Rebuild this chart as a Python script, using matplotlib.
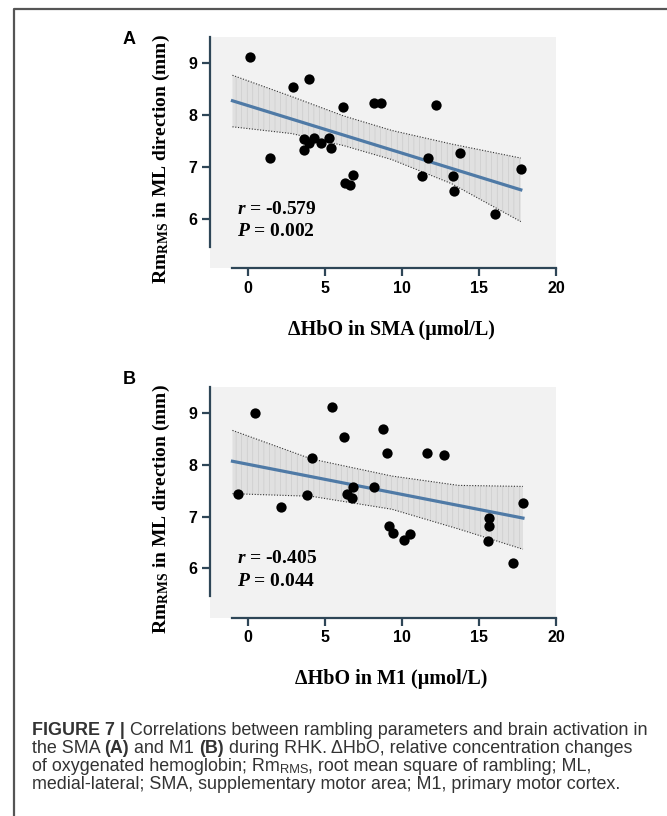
import numpy as np
import matplotlib
matplotlib.use('Agg')
import matplotlib.pyplot as plt
from matplotlib.lines import Line2D

plt.rcParams['mathtext.fontset'] = 'custom'
plt.rcParams['mathtext.rm'] = 'Liberation Serif:bold'
plt.rcParams['mathtext.bf'] = 'Liberation Serif:bold'
plt.rcParams['mathtext.it'] = 'Liberation Serif:italic:bold'
plt.rcParams['hatch.linewidth'] = 0.4

# panel A: dHbO in SMA vs Rm_RMS
sma_x = [0.15, 1.45, 2.9, 3.98, 3.65, 3.65, 3.94, 4.26, 4.76, 5.23, 5.41, 6.16, 6.32,
         6.64, 6.83, 8.19, 8.63, 12.2, 11.7, 11.3, 13.3, 13.34, 13.77, 16.04, 17.7]
sma_y = [9.12, 7.18, 8.53, 8.69, 7.54, 7.33, 7.45, 7.56, 7.45, 7.56, 7.36, 8.15, 6.69,
         6.66, 6.85, 8.23, 8.23, 8.18, 7.18, 6.82, 6.82, 6.54, 7.27, 6.10, 6.96]
sma_fit_x = [-1, 17.7]
sma_fit_y = [8.27, 6.56]
sma_band_x = [-1, 2.85, 6.2, 9.34, 13.2, 17.7]
sma_band_hi = [8.76, 8.35, 7.98, 7.70, 7.44, 7.17]
sma_band_lo = [7.77, 7.64, 7.41, 7.14, 6.68, 5.95]
sma_stats = ['-0.579', '0.002']

# panel B: dHbO in M1 vs Rm_RMS
m1_x = [-0.61, 0.43, 2.14, 3.83, 4.15, 5.47, 6.21, 6.42, 6.75, 6.81, 8.19, 8.76, 9.02,
        9.12, 9.41, 10.14, 10.49, 11.61, 12.69, 15.61, 15.61, 15.55, 17.19, 17.84]
m1_y = [7.43, 9.0, 7.18, 7.42, 8.13, 9.12, 8.53, 7.43, 7.35, 7.56, 7.56, 8.69, 8.22,
        6.82, 6.68, 6.54, 6.66, 8.22, 8.19, 6.97, 6.81, 6.52, 6.10, 7.27]
m1_fit_x = [-1, 17.84]
m1_fit_y = [8.065, 6.97]
m1_band_x = [-1, 4.11, 9.34, 13.66, 17.84]
m1_band_hi = [8.66, 8.11, 7.78, 7.60, 7.58]
m1_band_lo = [7.44, 7.39, 7.14, 6.76, 6.37]
m1_stats = ['-0.405', '0.044']

xticks = [0, 5, 10, 15, 20]
yticks = [6, 7, 8, 9]

W, H = 667, 816
fig = plt.figure(figsize=(W / 100, H / 100), dpi=100)

spine_col = '#2e4657'
serif = 'Liberation Serif'
sans = 'Liberation Sans'


def panel(rect, x, y, fit_x, fit_y, band_x, band_hi, band_lo, stats, xlabel, letter, letter_y):
    ax = fig.add_axes(rect)
    ax.set_facecolor('#f2f2f2')
    ax.set_xlim(-2.45, 20)
    ax.set_ylim(5.05, 9.5)

    # regression line with its 95% confidence band
    ax.fill_between(band_x, band_lo, band_hi, facecolor='#e0e0e0', edgecolor='#c8c8c8',
                    linewidth=0, hatch='|||', zorder=1)
    ax.plot(band_x, band_hi, ls=(0, (1, 1.5)), color='#333333', lw=0.8, zorder=2)
    ax.plot(band_x, band_lo, ls=(0, (1, 1.5)), color='#333333', lw=0.8, zorder=2)
    ax.plot(fit_x, fit_y, color='#4f7aa6', lw=2.3, zorder=3)
    ax.scatter(x, y, s=55, color='black', zorder=4, linewidths=0)

    for side in ['top', 'right']:
        ax.spines[side].set_visible(False)
    for side in ['left', 'bottom']:
        ax.spines[side].set_color(spine_col)
        ax.spines[side].set_linewidth(1.6)
    ax.spines['left'].set_bounds(5.47, 9.5)
    ax.spines['bottom'].set_bounds(-1, 20)
    ax.set_xticks(xticks)
    ax.set_yticks(yticks)
    ax.tick_params(direction='out', length=6, width=1.6, color=spine_col, pad=3)
    for lab in ax.get_xticklabels() + ax.get_yticklabels():
        lab.set_fontfamily(sans)
        lab.set_fontweight('bold')
        lab.set_fontsize(11.5)

    ax.set_xlabel(xlabel, fontfamily=serif, fontweight='bold', fontsize=14.5)
    ax.xaxis.set_label_coords(0.523, -0.223)
    ax.set_ylabel(r'$\mathbf{Rm}_{\mathbf{RMS}}$ in ML direction (mm)', fontfamily=serif,
                  fontweight='bold', fontsize=14)
    ax.yaxis.set_label_coords(-0.111, 0.47)

    ax.text(0.077, 0.256, r'$\mathit{r}$ = ' + stats[0], transform=ax.transAxes,
            fontfamily=serif, fontweight='bold', fontsize=14, va='center')
    ax.text(0.077, 0.158, r'$\mathit{P}$ = ' + stats[1], transform=ax.transAxes,
            fontfamily=serif, fontweight='bold', fontsize=14, va='center')

    fig.text(129 / W, 1 - letter_y / H, letter, fontfamily=sans, fontweight='bold',
             fontsize=13, ha='center', va='center')
    return ax


panel([0.315, 0.671, 0.519, 0.284], sma_x, sma_y, sma_fit_x, sma_fit_y,
      sma_band_x, sma_band_hi, sma_band_lo, sma_stats, 'ΔHbO in SMA (μmol/L)', 'A', 39)
panel([0.315, 0.243, 0.519, 0.283], m1_x, m1_y, m1_fit_x, m1_fit_y,
      m1_band_x, m1_band_hi, m1_band_lo, m1_stats, 'ΔHbO in M1 (μmol/L)', 'B', 380)

# frame around the figure
fig.add_artist(Line2D([14 / W, 14 / W, 1], [0, 1 - 8.5 / H, 1 - 8.5 / H],
                      transform=fig.transFigure, color='#555555', lw=1.6))

# caption, drawn run by run so bold and subscript pieces line up
cap_col = '#333333'
cap_size = 12.9
renderer = fig.canvas.get_renderer()


def caption_line(y_px, runs):
    xp = 32
    for txt, weight, size, dy in runs:
        t = fig.text(xp / W, 1 - (y_px - dy) / H, txt, fontfamily=sans, fontweight=weight,
                     fontsize=size, color=cap_col, va='baseline')
        xp += t.get_window_extent(renderer=renderer).width


caption_line(735, [('FIGURE 7 |', 'bold', cap_size, 0),
                   (' Correlations between rambling parameters and brain activation in',
                    'normal', cap_size, 0)])
caption_line(753, [('the SMA ', 'normal', cap_size, 0), ('(A)', 'bold', cap_size, 0),
                   (' and M1 ', 'normal', cap_size, 0), ('(B)', 'bold', cap_size, 0),
                   (' during RHK. ΔHbO, relative concentration changes', 'normal', cap_size, 0)])
caption_line(771, [('of oxygenated hemoglobin; Rm', 'normal', cap_size, 0),
                   ('RMS', 'normal', cap_size * 0.72, -2),
                   (', root mean square of rambling; ML,', 'normal', cap_size, 0)])
caption_line(789, [('medial-lateral; SMA, supplementary motor area; M1, primary motor cortex.',
                    'normal', cap_size, 0)])

fig.savefig('out.png', dpi=100)
